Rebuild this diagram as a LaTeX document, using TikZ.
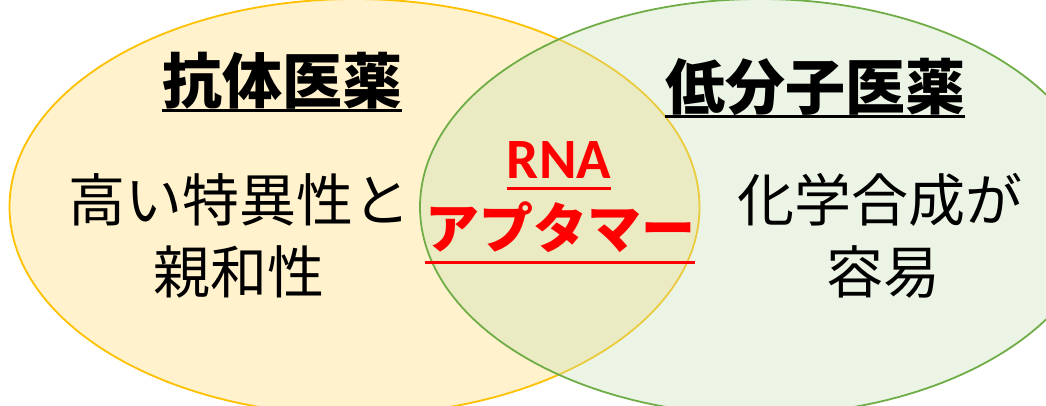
\documentclass[tikz,border=0pt]{standalone}
\usepackage{fontspec}
\newfontfamily\jp{Noto Sans CJK JP}
\newfontfamily\rnafont{Carlito}
\definecolor{yfill}{HTML}{FFF2CC}
\definecolor{ydraw}{HTML}{FFC000}
\definecolor{gfill}{HTML}{C5E0B4}
\definecolor{gdraw}{HTML}{70AD47}
\definecolor{rtext}{HTML}{FF0000}
\begin{document}
\begin{tikzpicture}[x=1pt,y=-1pt,
  head/.style={inner sep=0pt,anchor=base,font=\jp\bfseries\fontsize{60}{60}\selectfont},
  body/.style={inner sep=0pt,anchor=base,font=\jp\fontsize{57}{57}\selectfont},
  redtxt/.style={inner sep=0pt,anchor=base,text=rtext},
  uline/.style={line width=3pt}]
\useasboundingbox (0,0) rectangle (1046,405);
\begin{scope}
\clip (0,0) rectangle (1046,405);
\fill[yfill] (354.5,207) ellipse [x radius=345, y radius=208];
\draw[ydraw,line width=1.8pt] (354.5,207) ellipse [x radius=345, y radius=208];
\fill[gfill,opacity=0.35] (760,207) ellipse [x radius=340, y radius=208];
\draw[gdraw,line width=1.8pt] (760,207) ellipse [x radius=340, y radius=208];
\end{scope}
% headings
\node[head] (h1) at (282,103) {抗体医薬};
\node[head] (h2) at (815,109) {低分子医薬};
\draw[uline] ([yshift=-7pt]h1.base west) -- ([yshift=-7pt]h1.base east);
\draw[uline] ([yshift=-7pt]h2.base west) -- ([yshift=-7pt]h2.base east);
% body
\node[body] (l1) at (239,221) {高い特異性と};
\node[body] (l2) at (239,293) {親和性};
\node[body] (r1) at (880,221) {化学合成が};
\node[body] (r2) at (883,293) {容易};
% center
\node[redtxt,font=\rnafont\bfseries\fontsize{57}{57}\selectfont] (rna) at (559,178) {RNA};
\node[redtxt,font=\jp\bfseries\fontsize{54}{54}\selectfont] (apt) at (560,248.5) {アプタマー};
\draw[uline,rtext] ([yshift=-10pt]rna.base west) -- ([yshift=-10pt]rna.base east);
\draw[uline,rtext] ([yshift=-13.5pt]apt.base west) -- ([yshift=-13.5pt]apt.base east);
\end{tikzpicture}
\end{document}
